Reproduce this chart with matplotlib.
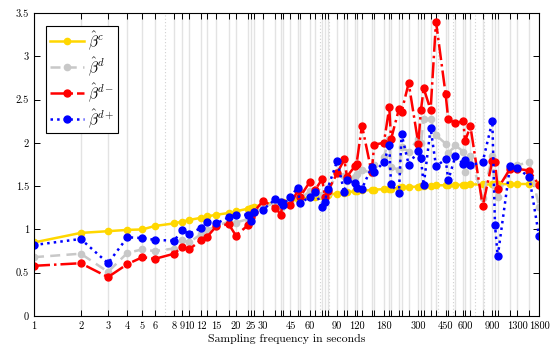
import matplotlib
matplotlib.use("Agg")
import matplotlib.pyplot as plt
import numpy as np

plt.rcParams['font.family'] = ['cmr10', 'DejaVu Serif']
plt.rcParams['mathtext.fontset'] = 'cm'
plt.rcParams['axes.unicode_minus'] = False

# sampling frequencies (divisors of 23400 s, one trading day)
freq = [1, 2, 3, 4, 5, 6, 8, 9, 10, 12, 13, 15, 18, 20, 24, 25, 26, 30, 36, 39,
        40, 45, 50, 52, 60, 65, 72, 75, 78, 90, 100, 104, 117, 120, 130, 150, 156,
        180, 195, 200, 225, 234, 260, 300, 312, 325, 360, 390, 450, 468, 520, 585,
        600, 650, 780, 900, 936, 975, 1170, 1300, 1560, 1800]

beta_c = [0.85, 0.96, 0.98, 0.995, 1.0, 1.04, 1.07, 1.09, 1.11, 1.135, 1.15, 1.17,
          1.19, 1.21, 1.24, 1.25, 1.26, 1.29, 1.31, 1.32, 1.32, 1.33, 1.35, 1.36,
          1.37, 1.38, 1.39, 1.40, 1.40, 1.415, 1.42, 1.43, 1.44, 1.44, 1.45, 1.455,
          1.46, 1.465, 1.47, 1.47, 1.48, 1.485, 1.49, 1.495, 1.50, 1.50, 1.505,
          1.51, 1.51, 1.51, 1.515, 1.515, 1.515, 1.52, 1.52, 1.52, 1.52, 1.52,
          1.525, 1.525, 1.525, 1.525]

beta_d = [0.68, 0.72, 0.51, 0.73, 0.77, 0.75, 0.78, 0.88, 0.85, 0.95, 0.99, 1.04,
          1.09, 1.08, 1.12, 1.15, 1.20, 1.27, 1.30, 1.25, 1.28, 1.32, 1.40, 1.36,
          1.44, 1.42, 1.40, 1.37, 1.42, 1.66, 1.62, 1.56, 1.60, 1.64, 1.69, 1.65,
          1.74, 1.84, 2.05, 1.72, 1.69, 1.95, 1.90, 2.05, 2.00, 2.28, 2.27, 2.09,
          1.99, 1.88, 1.97, 1.90, 1.66, 1.85, 1.36, 1.85, 1.50, 1.37, 1.72, 1.74,
          1.78, 1.26]

beta_dm = [0.58, 0.61, 0.45, 0.60, 0.68, 0.66, 0.72, 0.80, 0.77, 0.88, 0.91, 1.04,
           1.06, 0.93, 1.05, 1.14, 1.20, 1.33, 1.25, 1.17, 1.30, 1.28, 1.45, 1.38,
           1.55, 1.46, 1.58, 1.38, 1.44, 1.65, 1.81, 1.61, 1.73, 1.76, 2.20, 1.66,
           1.98, 2.00, 2.41, 2.04, 2.39, 2.36, 2.69, 1.99, 2.38, 2.63, 2.38, 3.40,
           2.56, 2.27, 2.23, 2.25, 2.02, 2.19, 1.27, 1.79, 1.78, 1.47, 1.70, 1.70,
           1.68, 1.51]

beta_dp = [0.82, 0.89, 0.61, 0.91, 0.90, 0.88, 0.87, 0.99, 0.95, 1.02, 1.09, 1.07,
           1.14, 1.17, 1.17, 1.10, 1.20, 1.23, 1.35, 1.32, 1.28, 1.38, 1.48, 1.30,
           1.38, 1.43, 1.26, 1.32, 1.47, 1.79, 1.43, 1.57, 1.54, 1.48, 1.47, 1.72,
           1.66, 1.78, 1.97, 1.52, 1.42, 2.10, 1.75, 1.91, 1.82, 1.51, 2.17, 1.73,
           1.81, 1.57, 1.845, 1.76, 1.80, 1.74, 1.78, 2.25, 1.05, 0.69, 1.73, 1.715,
           1.60, 0.92]

tick_labels = {1: '1', 2: '2', 3: '3', 4: '4', 5: '5', 6: '6', 8: '8', 9: '9',
               10: '10', 12: '12', 15: '15', 20: '20', 25: '25', 30: '30', 45: '45',
               60: '60', 90: '90', 120: '120', 180: '180', 300: '300', 450: '450',
               600: '600', 900: '900', 1300: '1300', 1800: '1800'}

fig = plt.figure(figsize=(5.54, 3.5), dpi=100)
ax = fig.add_axes([0.0614, 0.097, 0.9116, 0.866])

# minor grid (dotted) and one solid line per sampling frequency
minor = [m * 10 ** k for k in range(4) for m in range(2, 10) if m * 10 ** k < 1800]
for m in minor:
    if m not in freq:
        ax.axvline(m, color='#d0d0d0', lw=0.8, ls=(0, (1, 2)), zorder=0)
for f in freq:
    ax.axvline(f, color='#e3e3e3', lw=1.0, zorder=0)

ax.plot(freq, beta_c, '-o', color='#FFD700', lw=1.8, ms=4.5, label=r'$\hat{\beta}^{c}$')
ax.plot(freq, beta_d, 'o', ls=(0, (4, 2.5)), color='#C8C8C8', lw=1.8, ms=4.5,
        label=r'$\hat{\beta}^{d}$')
ax.plot(freq, beta_dm, '-.o', color='#FF0000', lw=1.8, ms=5, label=r'$\hat{\beta}^{d-}$')
ax.plot(freq, beta_dp, ':o', color='#0000FF', lw=1.8, ms=5, label=r'$\hat{\beta}^{d+}$')

ax.set_xscale('log')
ax.set_xlim(1, 1800)
ax.set_ylim(0, 3.5)
ax.set_xticks(freq)
ax.set_xticklabels([tick_labels.get(f, '') for f in freq])
ax.xaxis.set_minor_locator(matplotlib.ticker.NullLocator())
ax.set_yticks(np.arange(0, 3.51, 0.5))
ax.set_yticklabels(['0', '0.5', '1', '1.5', '2', '2.5', '3', '3.5'])
ax.tick_params(direction='in', top=True, right=True, labelsize=7.5, length=4, width=0.7)
ax.tick_params(axis='x', pad=4)
for s in ax.spines.values():
    s.set_linewidth(0.8)

ax.set_xlabel('Sampling frequency in seconds', fontsize=8.5, labelpad=2)

leg = ax.legend(loc='upper left', bbox_to_anchor=(0.024, 0.958), fontsize=11,
                fancybox=False, edgecolor='black', framealpha=1,
                handlelength=2.2, borderpad=0.25, labelspacing=0.2,
                handletextpad=0.3, borderaxespad=0)
leg.get_frame().set_linewidth(0.8)

fig.savefig('out.png', dpi=100)
